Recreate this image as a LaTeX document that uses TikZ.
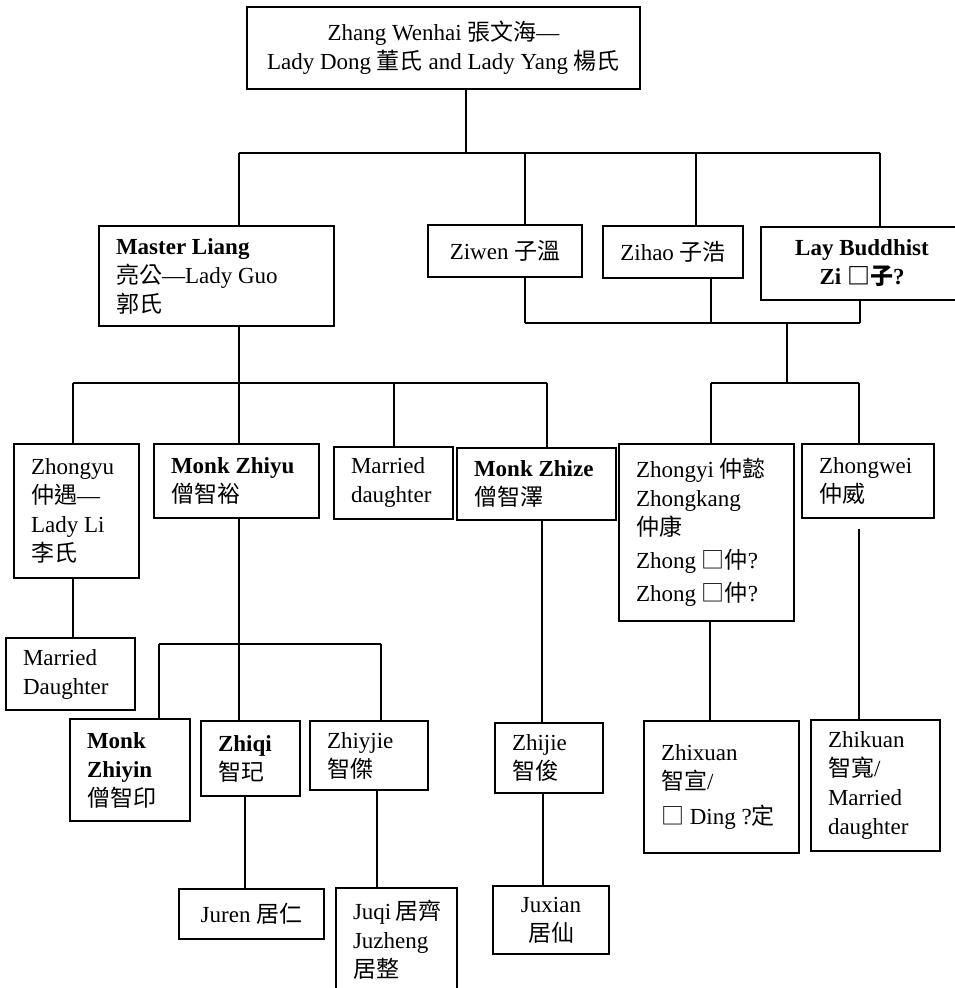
\documentclass[tikz,border=0pt]{standalone}
\usepackage{fontspec}
\setmainfont{Liberation Serif}
\newfontfamily\cjkfont{Noto Sans CJK TC}
\usetikzlibrary{calc}
\newcommand{\hanzi}[1]{{\cjkfont #1}}
\tikzset{
  font=\fontsize{11.5}{14.5}\selectfont,
  kin/.style={
    draw, line width=0.9pt, inner xsep=8.5pt, inner ysep=3pt,
    align=flush left
  },
  kinc/.style={kin, align=center},
  tie/.style={line width=0.7pt}
}

\begin{document}
\begin{tikzpicture}[x=0.5pt,y=-0.5pt]
  \useasboundingbox (0,0) rectangle (954,988);

  % generation 1
  \node[kinc,minimum width=196.5pt,minimum height=41pt] (wenhai) at (443.5,48)
    {Zhang Wenhai \hanzi{張文海}—\\Lady Dong \hanzi{董氏} and Lady Yang \hanzi{楊氏}};

  % generation 2
  \node[kin,text width=100.5pt,minimum height=50pt] (liang) at (216.5,276)
    {\textbf{Master~Liang}\\\hanzi{亮公}—Lady~Guo\\\hanzi{郭氏}};
  \node[kinc,minimum width=77pt,minimum height=26pt] (ziwen) at (505,251) {Ziwen \hanzi{子溫}};
  \node[kinc,minimum width=70pt,minimum height=26pt] (zihao) at (673,252) {Zihao \hanzi{子浩}};
  \node[kinc,minimum width=101pt,minimum height=36.5pt] (layzi) at (862,263.5)
    {\textbf{Lay Buddhist}\\\textbf{Zi \hanzi{□子}?}};

  % generation 3
  \node[kin,text width=45.5pt,minimum height=67pt] (zhongyu) at (76.5,511)
    {Zhongyu\\\hanzi{仲遇}—\\Lady~Li\\\hanzi{李氏}};
  \node[kin,text width=65.5pt,minimum height=37pt] (zhiyu) at (236.5,481)
    {\textbf{Monk~Zhiyu}\\\hanzi{僧智裕}};
  \node[kin,text width=42.5pt,minimum height=36pt] (daughterA) at (393.5,483)
    {Married\\daughter};
  \node[kin,text width=62.5pt,minimum height=36pt] (zhize) at (536.5,484)
    {\textbf{Monk~Zhize}\\\hanzi{僧智澤}};
  \node[kin,text width=70.5pt,minimum height=88.5pt] (zhongyi) at (706.5,532.5)
    {Zhongyi~\hanzi{仲懿}\\Zhongkang\\\hanzi{仲康}\\[2pt]Zhong~\hanzi{□仲}?\\[2pt]Zhong~\hanzi{□仲}?};
  \node[kin,text width=49pt,minimum height=37pt] (zhongwei) at (868,481)
    {Zhongwei\\\hanzi{仲威}};

  % generation 4
  \node[kin,text width=47.5pt,minimum height=36pt] (daughterB) at (70.5,674)
    {Married\\Daughter};
  \node[kin,text width=43pt,minimum height=51pt] (zhiyin) at (130,770)
    {\textbf{Monk}\\\textbf{Zhiyin}\\\hanzi{僧智印}};
  \node[kin,text width=32.5pt,minimum height=37.5pt] (zhiqi) at (250.5,758.5)
    {\textbf{Zhiqi}\\\hanzi{智玘}};
  \node[kin,text width=42pt,minimum height=34.5pt] (zhiyjie) at (369,755.5)
    {Zhiyjie\\\hanzi{智傑}};
  \node[kin,text width=37pt,minimum height=35pt] (zhijie) at (549,758)
    {Zhijie\\\hanzi{智俊}};
  \node[kin,text width=60.5pt,minimum height=66pt] (zhixuan) at (721.5,787)
    {Zhixuan\\\hanzi{智宣}/\\[3pt]\hanzi{□}~Ding~?\hanzi{定}};
  \node[kin,text width=47.5pt,minimum height=65.5pt] (zhikuan) at (875.5,785.5)
    {Zhikuan\\\hanzi{智寬}/\\Married\\daughter};

  % generation 5
  \node[kinc,minimum width=72.5pt,minimum height=25pt] (juren) at (251.5,914) {Juren \hanzi{居仁}};
  \node[kin,text width=43.5pt,minimum height=52pt] (juqi) at (396.5,940)
    {Juqi~\hanzi{居齊}\\Juzheng\\\hanzi{居整}};
  \node[kinc,minimum width=58pt,minimum height=34pt] (juxian) at (551,920) {Juxian\\\hanzi{居仙}};

  % first bus
  \coordinate (g0) at (466,153);
  \coordinate (g1) at (239,153);
  \coordinate (g2) at (525,153);
  \coordinate (g3) at (696,153);
  \coordinate (g4) at (880,153);
  \draw[tie] (wenhai.south -| g0) -- (g0);
  \draw[tie] (g1) -- (g4);
  \foreach \c/\n in {g1/liang,g2/ziwen,g3/zihao,g4/layzi}
    \draw[tie] (\c) -- (\c |- \n.north);

  % right branch
  \coordinate (r0) at (787,323);
  \coordinate (r1) at (525,323);
  \coordinate (r2) at (711,323);
  \coordinate (r3) at (860,323);
  \coordinate (s0) at (787,383);
  \coordinate (s1) at (711,383);
  \coordinate (s2) at (859,383);
  \foreach \c/\n in {r1/ziwen,r2/zihao,r3/layzi}
    \draw[tie] (\n.south -| \c) -- (\c);
  \draw[tie] (r1) -- (r3);
  \draw[tie] (r0) -- (s0);
  \draw[tie] (s1) -- (s2);
  \foreach \c/\n in {s1/zhongyi,s2/zhongwei}
    \draw[tie] (\c) -- (\c |- \n.north);

  % left branch
  \coordinate (p0) at (239,383);
  \coordinate (p1) at (73,383);
  \coordinate (p2) at (394,383);
  \coordinate (p3) at (547,383);
  \draw[tie] (liang.south -| p0) -- (p0);
  \draw[tie] (p1) -- (p3);
  \foreach \c/\n in {p1/zhongyu,p0/zhiyu,p2/daughterA,p3/zhize}
    \draw[tie] (\c) -- (\c |- \n.north);
  \draw[tie] (zhongyu.south -| p1) -- (p1 |- daughterB.north);

  % sons of Zhiyu
  \coordinate (q0) at (239,644);
  \coordinate (q1) at (159,644);
  \coordinate (q2) at (381,644);
  \draw[tie] (zhiyu.south -| q0) -- (q0 |- zhiqi.north);
  \draw[tie] (q1) -- (q2);
  \foreach \c/\n in {q1/zhiyin,q2/zhiyjie}
    \draw[tie] (\c) -- (\c |- \n.north);

  % single lines down
  \coordinate (t1) at (245,0);
  \coordinate (t2) at (377,0);
  \coordinate (t3) at (542,0);
  \coordinate (t4) at (543,0);
  \coordinate (t5) at (710,0);
  \coordinate (t6) at (859,0);
  \draw[tie] (zhiqi.south -| t1) -- (t1 |- juren.north);
  \draw[tie] (zhiyjie.south -| t2) -- (t2 |- juqi.north);
  \draw[tie] (zhize.south -| t3) -- (t3 |- zhijie.north);
  \draw[tie] (zhijie.south -| t4) -- (t4 |- juxian.north);
  \draw[tie] (zhongyi.south -| t5) -- (t5 |- zhixuan.north);
  \draw[tie] ($(zhongwei.south -| t6)+(0,10)$) -- (t6 |- zhikuan.north);
\end{tikzpicture}
\end{document}
